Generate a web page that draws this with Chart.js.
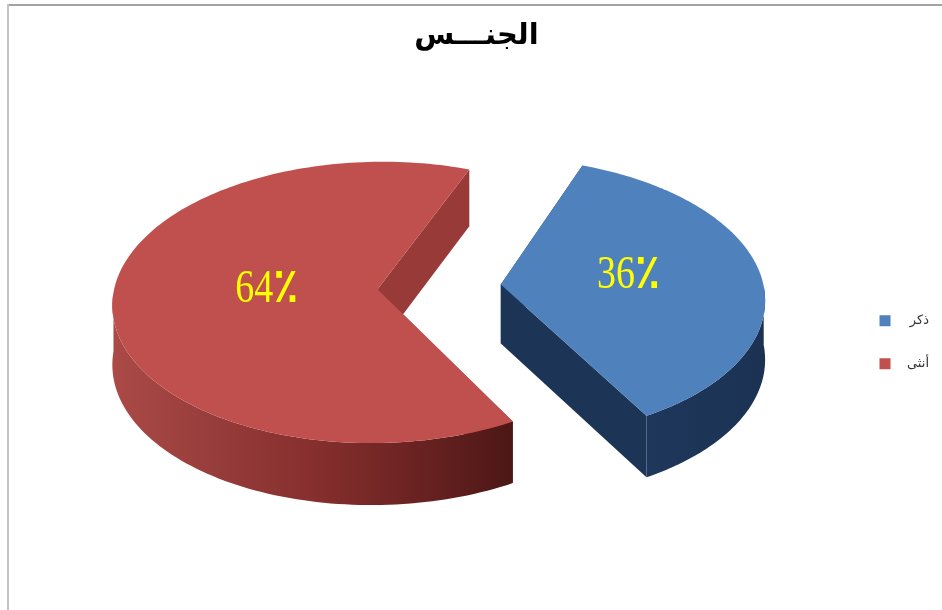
<!DOCTYPE html>
<html lang="ar">
<head>
<meta charset="utf-8">
<title>الجنس</title>
<script src="https://cdn.jsdelivr.net/npm/chart.js@4/dist/chart.umd.min.js"></script>
<style>
  html, body { margin: 0; padding: 0; background: #fff; }
  #wrap { position: relative; width: 942px; height: 610px; }
</style>
</head>
<body>
<div id="wrap"><canvas id="pie" width="942" height="610"></canvas></div>
<script>
const categories = ['ذكر', 'أنثى'];
const values = [36, 64];
const valueLabels = ['36٪', '64٪'];
const titleText = 'الجنـــس';
const faceColors = ['#4f81bd', '#c0504d'];

// Shape of the tilted pie: horizontal and vertical radius of the disc, strength of
// the perspective, wall height, how far slices are pulled apart (in disc radii),
// and where the disc sits relative to the pie centre Chart.js computes.
const discRx = 263;
const discRy = 139;
const perspective = 0.093;
const wallHeight = 59;
const explode = 0.235;
const discNudgeX = 2.5;
const discNudgeY = -77;
const labelReach = [0.49, 0.42];
const labelRaise = 4;

const rimStops = [
  [['0', '#1f3a5f'], ['1', '#1b3253']],
  [['0', '#ab4a47'], ['0.25', '#973d3b'], ['0.5', '#862f2e'], ['0.75', '#6b2322'], ['1', '#4c1716']]
];
const cutWallColors = ['#1c3557', '#983a37'];

function project(arc, u, v, lift) {
  const w = 1 - perspective * v;
  return {
    x: arc.x + discNudgeX + discRx * u / w,
    y: arc.y + discNudgeY + discRy * v / w + (lift ? wallHeight / Math.sqrt(w) : 0)
  };
}

function sliceOrigin(arc) {
  const mid = (arc.startAngle + arc.endAngle) / 2;
  return { u: explode * Math.cos(mid), v: explode * Math.sin(mid) };
}

// Rim samples; frontOnly keeps the part of the rim that faces the viewer.
function rimPoints(arc, lift, frontOnly) {
  const o = sliceOrigin(arc);
  const pts = [];
  const steps = 160;
  for (let i = 0; i <= steps; i++) {
    const a = arc.startAngle + (arc.endAngle - arc.startAngle) * i / steps;
    if (frontOnly && Math.sin(a) < 0) continue;
    pts.push(project(arc, o.u + Math.cos(a), o.v + Math.sin(a), lift));
  }
  return pts;
}

function tracePolygon(ctx, pts) {
  ctx.beginPath();
  pts.forEach((p, i) => (i ? ctx.lineTo(p.x, p.y) : ctx.moveTo(p.x, p.y)));
  ctx.closePath();
}

function drawSlice(ctx, arc, index) {
  const o = sliceOrigin(arc);
  const top = rimPoints(arc, false, false);
  const low = rimPoints(arc, true, false);
  const frontTop = rimPoints(arc, false, true);
  const frontLow = rimPoints(arc, true, true);
  const apexTop = project(arc, o.u, o.v, false);
  const apexLow = project(arc, o.u, o.v, true);

  // cut faces running from the centre to each end of the rim
  ctx.fillStyle = cutWallColors[index];
  tracePolygon(ctx, [apexTop, top[0], low[0], apexLow]);
  ctx.fill();
  tracePolygon(ctx, [apexTop, top[top.length - 1], low[low.length - 1], apexLow]);
  ctx.fill();

  // curved outer wall, shaded from left to right
  const xs = top.map(p => p.x);
  const grad = ctx.createLinearGradient(Math.min(...xs), 0, Math.max(...xs), 0);
  rimStops[index].forEach(s => grad.addColorStop(+s[0], s[1]));
  ctx.fillStyle = grad;
  tracePolygon(ctx, frontTop.concat(frontLow.slice().reverse()));
  ctx.fill();

  // top face
  ctx.fillStyle = faceColors[index];
  tracePolygon(ctx, [apexTop].concat(top));
  ctx.fill();
}

function drawValueLabel(ctx, arc, index) {
  const o = sliceOrigin(arc);
  const mid = (arc.startAngle + arc.endAngle) / 2;
  const r = labelReach[index];
  const p = project(arc, o.u + r * Math.cos(mid), o.v + r * Math.sin(mid), false);
  const text = valueLabels[index];
  const digits = text.slice(0, -1);
  const sign = text.slice(-1);
  const digitFont = '38px "Liberation Serif"';
  const signFont = 'bold 41px "DejaVu Sans"';

  ctx.save();
  ctx.translate(p.x, p.y - labelRaise);
  ctx.scale(1, 1.2);
  ctx.fillStyle = '#ffff00';
  ctx.textBaseline = 'middle';
  ctx.textAlign = 'left';
  ctx.direction = 'ltr';
  ctx.font = digitFont;
  const digitWidth = ctx.measureText(digits).width;
  ctx.font = signFont;
  const signWidth = ctx.measureText(sign).width;
  const start = -(digitWidth + signWidth) / 2;
  ctx.font = digitFont;
  ctx.fillText(digits, start, 0);
  ctx.font = signFont;
  ctx.fillText(sign, start + digitWidth, 0);
  ctx.restore();
}

const tiltedPie = {
  id: 'tiltedPie',
  beforeDatasetsDraw(chart) {
    const ctx = chart.ctx;
    const arcs = chart.getDatasetMeta(0).data;
    ctx.save();
    arcs.forEach((arc, i) => drawSlice(ctx, arc, i));
    arcs.forEach((arc, i) => drawValueLabel(ctx, arc, i));
    ctx.restore();
    return false;
  }
};

const chartFrame = {
  id: 'chartFrame',
  beforeDraw(chart) {
    const ctx = chart.ctx;
    ctx.save();
    ctx.fillStyle = '#ffffff';
    ctx.fillRect(0, 0, chart.width, chart.height);
    ctx.fillStyle = '#a3a3a3';
    ctx.fillRect(7, 4, chart.width - 7, 2);
    ctx.fillStyle = '#c4c4c4';
    ctx.fillRect(7, 4, 2, chart.height - 4);
    ctx.restore();
  }
};

new Chart(document.getElementById('pie'), {
  type: 'pie',
  data: {
    labels: categories,
    datasets: [{ data: values, backgroundColor: faceColors, borderWidth: 0 }]
  },
  plugins: [chartFrame, tiltedPie],
  options: {
    responsive: false,
    animation: false,
    rotation: 21,
    layout: { padding: { left: 24, right: 13, top: 19, bottom: 10 } },
    plugins: {
      tooltip: { enabled: false },
      title: {
        display: true,
        text: titleText,
        color: '#000000',
        font: { family: '"DejaVu Sans"', size: 29, weight: 'bold' },
        padding: { top: 0, bottom: 74 }
      },
      legend: {
        position: 'right',
        title: {
          display: true,
          text: ' ',
          font: { size: 8 },
          padding: 28
        },
        labels: {
          boxWidth: 11,
          boxHeight: 11,
          padding: 30,
          color: '#333333',
          textAlign: 'right',
          font: { family: '"DejaVu Sans"', size: 13 }
        }
      }
    }
  }
});
</script>
</body>
</html>
